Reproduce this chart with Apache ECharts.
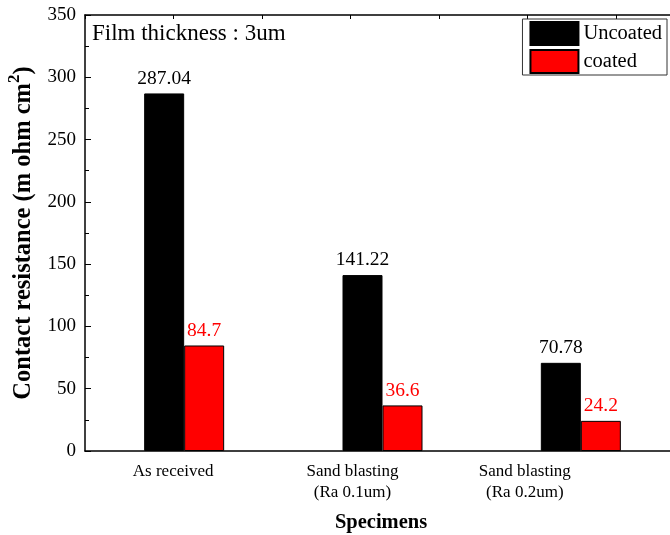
<!DOCTYPE html>
<html>
<head>
<meta charset="utf-8">
<script src="https://cdn.jsdelivr.net/npm/echarts@6/dist/echarts.min.js"></script>
<style>
  html, body { margin: 0; padding: 0; background: #fff; }
  #main { width: 670px; height: 535px; }
</style>
</head>
<body>
<div id="main"></div>
<script>
// 分类
var categories = ['As received', 'Sand blasting\n(Ra 0.1um)', 'Sand blasting\n(Ra 0.2um)'];

// 数据
var uncoated = [287.04, 141.22, 70.78];
var coated = [84.7, 36.6, 24.2];

// y轴刻度
var yTicks = [0, 50, 100, 150, 200, 250, 300, 350];

var font = '"Liberation Serif", "Times New Roman", serif';

// x轴标签左移 (原图标签没有对齐柱子)
var labelShift = [22, 60, 112];
var xRich = {};
labelShift.forEach(function (p, i) {
    xRich['c' + i] = { fontSize: 17, color: '#000', fontFamily: font, lineHeight: 21, padding: [0, p, 0, 0] };
});

var myChart = echarts.init(document.getElementById('main'));

var option = {
    animation: false,
    textStyle: { fontFamily: font },
    grid: { left: 85, top: 15, bottom: 84, right: -10, outerBoundsMode: 'none', containLabel: false },
    legend: {
        orient: 'vertical',
        right: 3,
        top: 19,
        icon: 'rect',
        itemWidth: 48,
        itemHeight: 23,
        itemGap: 3,
        padding: [2, 5, 1, 7],
        borderColor: '#333',
        borderWidth: 1,
        textStyle: { fontSize: 20.5, lineHeight: 23, color: '#000', fontFamily: font },
        data: ['Uncoated', 'coated']
    },
    xAxis: [
        {
            type: 'category',
            data: categories,
            axisLine: { lineStyle: { color: '#000', width: 1.5 } },
            axisTick: { inside: true, length: 5, lineStyle: { color: '#000' } },
            axisLabel: {
                interval: 0,
                margin: 10,
                formatter: function (v, i) {
                    return v.split('\n').map(function (s) { return '{c' + i + '|' + s + '}'; }).join('\n');
                },
                rich: xRich
            }
        },
        {
            type: 'value',
            position: 'top',
            min: 0,
            max: 6.72,
            interval: 1,
            axisLine: { show: true, onZero: false, lineStyle: { color: '#000', width: 1.5 } },
            axisTick: { show: true, inside: true, length: 4, lineStyle: { color: '#000' } },
            axisLabel: { show: false },
            splitLine: { show: false }
        }
    ],
    yAxis: {
        type: 'value',
        min: yTicks[0],
        max: yTicks[yTicks.length - 1],
        interval: 50,
        name: '{a|Contact resistance (m ohm cm}{s|2}{a|)}',
        nameLocation: 'middle',
        nameGap: 44,
        nameTextStyle: {
            rich: {
                a: { fontSize: 24.5, fontWeight: 'bold', color: '#000', fontFamily: font, lineHeight: 30, verticalAlign: 'bottom' },
                s: { fontSize: 17, fontWeight: 'bold', color: '#000', fontFamily: font, lineHeight: 30, verticalAlign: 'top', padding: [0, 0, 12, 0] }
            }
        },
        axisLine: { show: true, lineStyle: { color: '#000', width: 1.5 } },
        axisTick: { show: true, inside: true, length: 6, lineStyle: { color: '#000' } },
        minorTick: { show: true, inside: true, splitNumber: 2, length: 4, lineStyle: { color: '#000' } },
        axisLabel: { fontSize: 19, color: '#000', fontFamily: font, margin: 9 },
        splitLine: { show: false }
    },
    graphic: [
        {
            type: 'text', left: 92, top: 22,
            style: { text: 'Film thickness : 3um', fontSize: 23, fill: '#000', fontFamily: font }
        },
        {
            type: 'text', x: 381, y: 523,
            style: { text: 'Specimens', fontSize: 20.5, fontWeight: 'bold', fill: '#000', fontFamily: font, align: 'center', verticalAlign: 'middle' }
        }
    ],
    series: [
        {
            name: 'Uncoated',
            type: 'bar',
            data: uncoated,
            barWidth: 40,
            barGap: '0%',
            itemStyle: { color: '#000', borderColor: '#000', borderWidth: 1 },
            label: { show: true, position: 'top', distance: 5, fontSize: 19.5, color: '#000', fontFamily: font }
        },
        {
            name: 'coated',
            type: 'bar',
            data: coated,
            barWidth: 40,
            itemStyle: { color: '#ff0000', borderColor: '#000', borderWidth: 1 },
            label: { show: true, position: 'top', distance: 5, fontSize: 19.5, color: '#ff0000', fontFamily: font }
        }
    ]
};

myChart.setOption(option);
</script>
</body>
</html>
